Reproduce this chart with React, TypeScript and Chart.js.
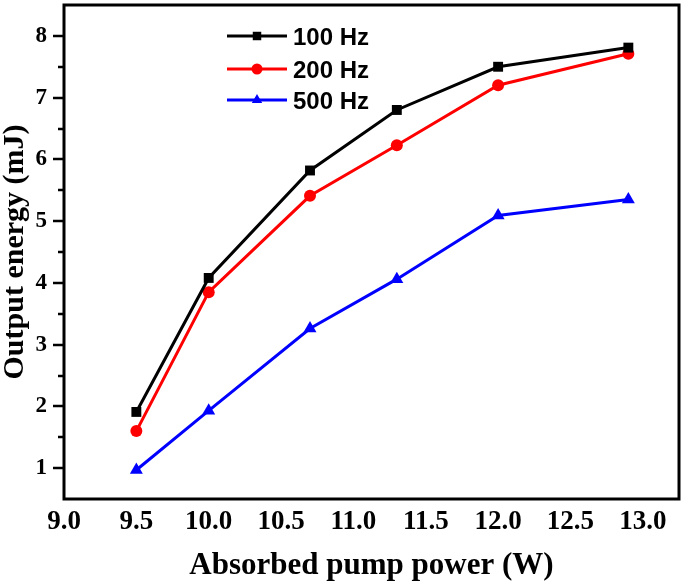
import React, { useEffect, useRef } from "react";
import { Chart, registerables } from "chart.js";

Chart.register(...registerables);

const POWER = [9.5, 10.0, 10.7, 11.3, 12.0, 12.9];
const E100 = [1.91, 4.08, 5.82, 6.8, 7.5, 7.81];
const E200 = [1.6, 3.85, 5.41, 6.23, 7.2, 7.71];
const E500 = [0.97, 1.93, 3.26, 4.06, 5.09, 5.35];
const SERIES_LABELS = ["100 Hz", "200 Hz", "500 Hz"];
const X_TICKS = [9.0, 9.5, 10.0, 10.5, 11.0, 11.5, 12.0, 12.5, 13.0];
const Y_TICKS = [1, 2, 3, 4, 5, 6, 7, 8];
const Y_MINOR = [1.5, 2.5, 3.5, 4.5, 5.5, 6.5, 7.5];

const COLORS = ["#000000", "#ff0000", "#0000ff"];
const STYLES = ["rect", "circle", "triangle"];
const RADII = [7, 6, 7.5];

function drawMarker(ctx: CanvasRenderingContext2D, style: string, r: number, x: number, y: number) {
  ctx.beginPath();
  if (style === "rect") {
    const s = Math.SQRT1_2 * r;
    ctx.rect(x - s, y - s, 2 * s, 2 * s);
  } else if (style === "circle") {
    ctx.arc(x, y, r, 0, Math.PI * 2);
  } else {
    ctx.moveTo(x, y - r);
    ctx.lineTo(x + r * 0.866, y + r * 0.5);
    ctx.lineTo(x - r * 0.866, y + r * 0.5);
    ctx.closePath();
  }
  ctx.fill();
}

const framePlugin = {
  id: "frame",
  afterDraw(chart: any) {
    const { ctx, chartArea } = chart;
    const y = chart.scales.y;
    ctx.save();
    ctx.strokeStyle = "#000";
    ctx.lineWidth = 3;
    ctx.strokeRect(chartArea.left, chartArea.top, chartArea.right - chartArea.left, chartArea.bottom - chartArea.top);
    ctx.lineWidth = 2.5;
    ctx.beginPath();
    for (const v of Y_TICKS) {
      const py = Math.round(y.getPixelForValue(v));
      ctx.moveTo(chartArea.left - 11, py);
      ctx.lineTo(chartArea.left, py);
    }
    for (const v of Y_MINOR) {
      const py = Math.round(y.getPixelForValue(v));
      ctx.moveTo(chartArea.left - 6, py);
      ctx.lineTo(chartArea.left, py);
    }
    ctx.stroke();

    // legend
    const rows = [36, 69, 100];
    ctx.font = "bold 24px 'Liberation Sans', Arial, sans-serif";
    ctx.textBaseline = "middle";
    ctx.textAlign = "left";
    SERIES_LABELS.forEach((lab, i) => {
      const ry = rows[i];
      ctx.strokeStyle = COLORS[i];
      ctx.lineWidth = 3;
      ctx.beginPath();
      ctx.moveTo(227, ry);
      ctx.lineTo(287, ry);
      ctx.stroke();
      ctx.fillStyle = COLORS[i];
      drawMarker(ctx, STYLES[i], i === 1 ? 5.5 : 6, 257, ry);
      ctx.fillStyle = "#000";
      ctx.fillText(lab, 293, ry + 2);
    });
    ctx.restore();
  },
};

export default function App() {
  const ref = useRef<HTMLCanvasElement>(null);
  useEffect(() => {
    document.body.style.margin = "0";
    const data = [E100, E200, E500];
    const chart = new Chart(ref.current!, {
      type: "line",
      data: {
        datasets: data.map((vals, i) => ({
          label: SERIES_LABELS[i],
          data: POWER.map((x, j) => ({ x, y: vals[j] })),
          borderColor: COLORS[i],
          backgroundColor: COLORS[i],
          borderWidth: 3,
          pointStyle: STYLES[i] as any,
          pointRadius: RADII[i],
          pointBorderWidth: 0,
          tension: 0,
        })),
      },
      options: {
        responsive: false,
        animation: false,
        layout: { autoPadding: false, padding: { top: 5, right: 6, left: 0, bottom: 0 } },
        plugins: { legend: { display: false }, tooltip: { enabled: false } },
        scales: {
          x: {
            type: "linear",
            min: 9.0,
            max: 13.25,
            afterBuildTicks: (s: any) => {
              s.ticks = X_TICKS.map((v) => ({ value: v }));
            },
            afterFit: (s: any) => {
              s.height = 89;
              s.paddingLeft = 0;
              s.paddingRight = 0;
            },
            grid: { display: false, drawTicks: false },
            border: { display: false },
            ticks: {
              padding: 7,
              color: "#000",
              maxRotation: 0,
              autoSkip: false,
              font: { family: "'Liberation Serif', 'Times New Roman', serif", size: 27, weight: "bold" },
              callback: (v: any) => Number(v).toFixed(1),
            },
            title: {
              display: true,
              text: "Absorbed pump power (W)",
              color: "#000",
              font: { family: "'Liberation Serif', 'Times New Roman', serif", size: 31, weight: "bold", lineHeight: 1.2 },
              padding: { top: 0, bottom: 3 },
            },
          },
          y: {
            type: "linear",
            min: 0.5,
            max: 8.5,
            afterBuildTicks: (s: any) => {
              s.ticks = Y_TICKS.map((v) => ({ value: v }));
            },
            afterFit: (s: any) => {
              s.width = 64;
              s.paddingTop = 0;
              s.paddingBottom = 0;
            },
            grid: { display: false, drawTicks: false },
            border: { display: false },
            ticks: {
              padding: 17,
              color: "#000",
              font: { family: "'Liberation Serif', 'Times New Roman', serif", size: 23, weight: "bold" },
            },
            title: {
              display: true,
              text: "Output energy (mJ)",
              color: "#000",
              font: { family: "'Liberation Serif', 'Times New Roman', serif", size: 30, weight: "bold", lineHeight: 1.0 },
              padding: { top: 0, bottom: 0 },
            },
          },
        },
      },
      plugins: [framePlugin],
    });
    return () => chart.destroy();
  }, []);
  return (
    <div style={{ position: "absolute", left: 0, top: 0, width: 685, height: 588, background: "#fff" }}>
      <canvas ref={ref} width={685} height={588} style={{ width: 685, height: 588 }} />
    </div>
  );
}
